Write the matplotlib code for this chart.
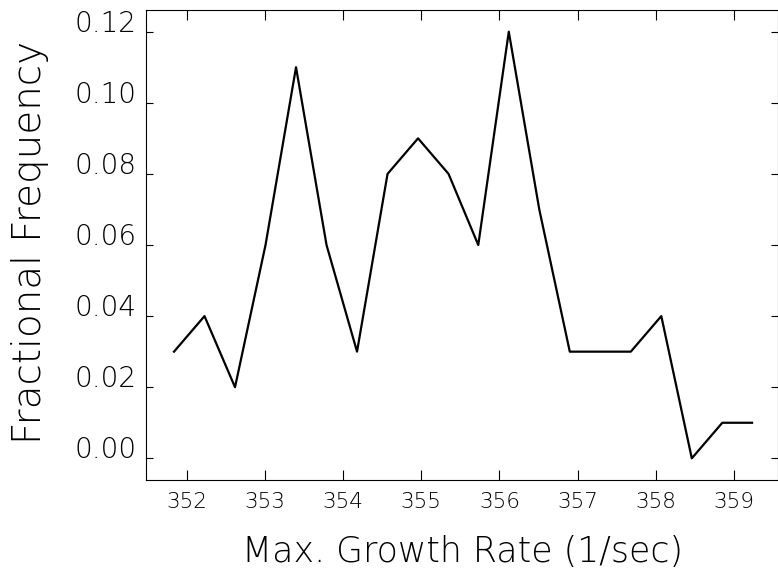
import matplotlib
matplotlib.use('Agg')
import matplotlib.pyplot as plt

# growth rate bins (1/sec) and the fraction of cells in each one
growth_rate = [351.84, 352.23, 352.62, 353.01, 353.40, 353.79, 354.18,
               354.57, 354.96, 355.35, 355.73, 356.12, 356.51, 356.90,
               357.29, 357.68, 358.07, 358.46, 358.85, 359.23]
fraction = [0.03, 0.04, 0.02, 0.06, 0.11, 0.06, 0.03, 0.08, 0.09, 0.08,
            0.06, 0.12, 0.07, 0.03, 0.03, 0.03, 0.04, 0.00, 0.01, 0.01]

x_ticks = [352, 353, 354, 355, 356, 357, 358, 359]
y_ticks = [0.00, 0.02, 0.04, 0.06, 0.08, 0.10, 0.12]

plt.rcParams['font.family'] = ['DejaVu Sans']
plt.rcParams['font.weight'] = 'light'

fig = plt.figure(figsize=(7.78, 5.78), dpi=100)
ax = fig.add_axes([146 / 778, 1 - 479.5 / 578, 632 / 778, 469.5 / 578])

ax.plot(growth_rate, fraction, color='black', linewidth=1.6)

ax.set_xlim(351.482, 359.562)
ax.set_ylim(-0.00596, 0.1261)

ax.set_xticks(x_ticks)
ax.set_xticklabels([str(v) for v in x_ticks])
ax.set_yticks(y_ticks)
ax.set_yticklabels([f'{v:.2f}' for v in y_ticks])

ax.tick_params(axis='x', direction='in', length=7, width=0.8,
               top=True, labelsize=15.5, pad=9, labelcolor='black')
ax.tick_params(axis='y', direction='in', length=5, width=0.8,
               right=True, labelsize=20, pad=7, labelcolor='black')
for lab in ax.get_yticklabels():
    lab.set_va('baseline')
for sp in ax.spines.values():
    sp.set_linewidth(0.8)

fig.text(463 / 778, 1 - 562 / 578, 'Max. Growth Rate (1/sec)',
         ha='center', va='baseline', fontsize=25, fontweight='light')
fig.text(30 / 778, 1 - 242 / 578, 'Fractional Frequency',
         ha='center', va='center', rotation=90, fontsize=28,
         fontweight='light')

fig.savefig('out.png', dpi=100)
